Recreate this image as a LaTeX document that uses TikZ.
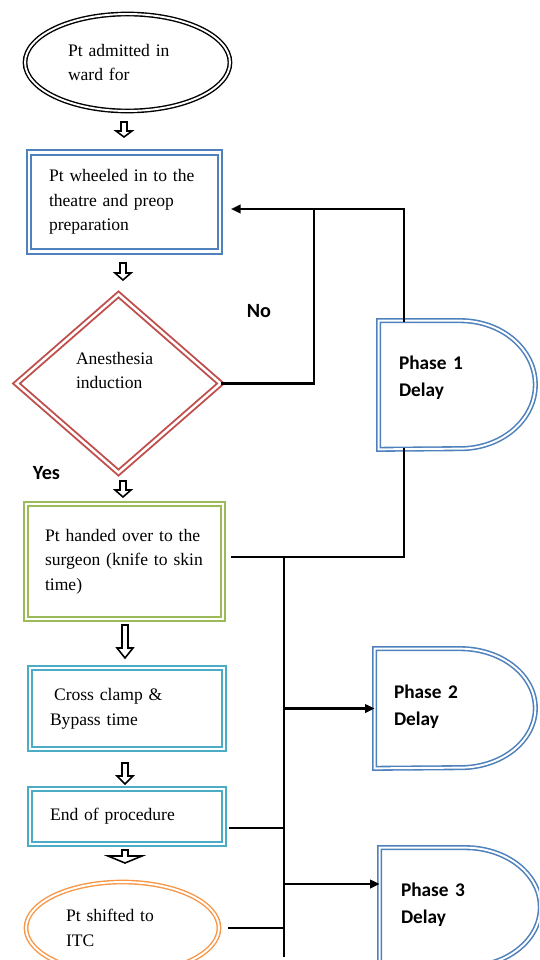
\documentclass[tikz,border=0pt]{standalone}
\usepackage{fontspec}
\setmainfont{Liberation Serif}
\newfontfamily\carl{Carlito}
\usetikzlibrary{shapes.geometric,arrows.meta}
\definecolor{cblue}{HTML}{4F81BD}
\definecolor{cred}{HTML}{C0504D}
\definecolor{cgreen}{HTML}{9BBB59}
\definecolor{cteal}{HTML}{4BACC6}
\definecolor{corange}{HTML}{F79646}
\tikzset{
  txt/.style={font=\fontsize{10}{14}\selectfont, align=left, inner sep=0pt},
  dbl/.style={double=white, double distance=1.4pt, line width=1.1pt},
  box/.style={rectangle, draw=#1, dbl, txt},
  ell/.style={ellipse, draw=#1, dbl, txt, double distance=1.1pt, line width=0.8pt},
  phase/.style={rectangle, inner sep=0pt, align=left, font=\carl\bfseries\fontsize{11}{15.3}\selectfont},
  dshape/.style={draw=cblue, double=white, double distance=1.1pt, line width=0.9pt},
  conn/.style={line width=1.4pt, line cap=rect, line join=miter},
  tip/.style={-{Triangle[length=5.5pt,width=4.8pt]}},
  lbl/.style={font=\carl\bfseries\fontsize{11.5}{13}\selectfont, inner sep=0pt},
  pics/harr/.style args={#1/#2/#3}{code={
    \draw[line width=0.9pt, fill=white, line join=miter]
      (-3,0) -- (3,0) -- (3,{-(#1-#2)}) -- (#3,{-(#1-#2)}) -- (0,-#1)
      -- (-#3,{-(#1-#2)}) -- (-3,{-(#1-#2)}) -- cycle;}}
}
\begin{document}
\begin{tikzpicture}[x=0.02cm,y=0.02cm]
\useasboundingbox (0,0) rectangle (539,-960);
\clip (0,0) rectangle (539,-960);

% left column
\node[ell=black, minimum width=4.1cm, minimum height=1.94cm, text width=2.38cm] (e1) at (127.5,-62.5) {Pt admitted in\\ward for};
\pic (a1) at (124,-122) {harr=15/6/8};
\node[box=cblue, minimum width=3.82cm, minimum height=1.98cm, text width=3.02cm] (r1) at (124.5,-202) {Pt wheeled in to the\\theatre and preop\\preparation};
\pic (a2) at (123,-263) {harr=17/7/8};
\node[diamond, draw=cred, dbl, txt, minimum width=4.1cm, minimum height=3.58cm, text width=1.7cm, text depth=28.9pt] (d) at (118.5,-383.5) {Anesthesia\\induction};
\node[lbl] (no) at (259,-311) {No};
\node[lbl] (yes) at (46.5,-473) {Yes};
\pic (a3) at (123,-481) {harr=16/7/8};
\node[box=cgreen, minimum width=3.94cm, minimum height=2.3cm, text width=3.18cm] (r3) at (124.5,-561.5) {Pt handed over to the\\surgeon (knife to skin\\time)};
\pic (a4) at (125,-625) {harr=33/10/8};
\node[box=cteal, minimum width=3.88cm, minimum height=1.62cm, text width=3.08cm] (r4) at (127,-708.5) {\hspace*{2.3pt}Cross clamp \&\\Bypass time};
\pic (a5) at (125,-763) {harr=21/8/8};
\node[box=cteal, minimum width=3.88cm, minimum height=1.1cm, text width=3.08cm] (r5) at (127,-816.5) {End of procedure};
\pic (a6) at (125,-850) {harr=13/7/17};
\node[ell=corange, minimum width=3.86cm, minimum height=1.84cm, text width=2.26cm] (e2) at (122.5,-928) {Pt shifted to\\ITC};

% phase delay shapes
\node[phase, minimum width=3.12cm, minimum height=2.56cm, text width=2.32cm, text depth=25.3pt] (p1) at (457,-385) {Phase 1\\Delay};
\draw[dshape] (p1.north west) -- ([xshift=-1.5cm]p1.north east) arc[start angle=90, end angle=-90, x radius=1.5cm, y radius=1.28cm] -- (p1.south west) -- cycle;
\node[phase, minimum width=3.2cm, minimum height=2.38cm, text width=2.44cm, text depth=19.1pt] (p2) at (455,-708.5) {Phase 2\\Delay};
\draw[dshape] (p2.north west) -- ([xshift=-1.5cm]p2.north east) arc[start angle=90, end angle=-90, x radius=1.5cm, y radius=1.19cm] -- (p2.south west) -- cycle;
\node[phase, minimum width=3.2cm, minimum height=2.38cm, text width=2.36cm, text depth=20.3pt] (p3) at (460,-907.5) {Phase 3\\Delay};
\draw[dshape] (p3.north west) -- ([xshift=-1.5cm]p3.north east) arc[start angle=90, end angle=-90, x radius=1.5cm, y radius=1.19cm] -- (p3.south west) -- cycle;

% connectors
\coordinate (j1) at (314,-209);
\coordinate (j2) at (404,-209);
\coordinate (j3) at (404,-557);
\coordinate (j4) at (284,-557);
\coordinate (j5) at (284,-956);
\coordinate (k5) at (284,-828);
\coordinate (k3) at (284,-884);

\draw[conn] (d.east) -| (j1);
\draw[conn, tip, shorten >=0.2cm] (j2 |- p1.north) -- (j2) -- (r1.east |- j2);
\draw[conn, shorten >=0.16cm] (j2 |- p1.south) -- (j3) -- (r3.east |- j3);
\draw[conn] (j4) -- (j5);
\draw[conn, tip] (j4 |- p2.west) -- (p2.west);
\draw[conn, tip] (k3) -- (k3 -| p3.west);
\draw[conn, shorten <=0.1cm] (k5 -| r5.east) -- (k5);
\draw[conn, shorten <=0.2cm] (e2.east) -- (e2.east -| j4);
\end{tikzpicture}
\end{document}
